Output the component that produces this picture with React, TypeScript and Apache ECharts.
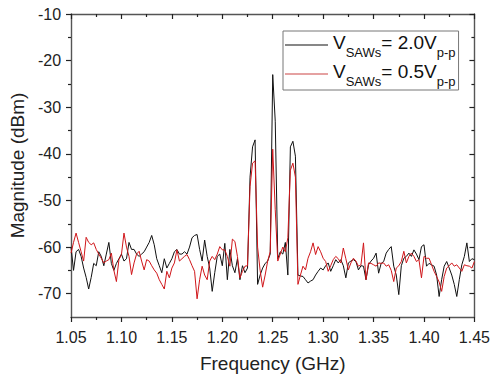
import React, { useEffect, useRef } from "react";
import * as echarts from "echarts";

// Sweep: 1.05 GHz to 1.45 GHz, 0.0025 GHz step (161 points)
const FREQ_START = 1.05;
const FREQ_STEP = 0.0025;

// V_SAWs = 2.0 Vp-p (black)
const mag20: number[] = [
  -60, -65, -61, -60.5, -62, -64.5, -66.5, -69, -66.5, -63.5,
  -64, -61, -62, -64, -61.5, -59, -63.5, -65, -63.5, -62.5,
  -61.5, -63, -62.5, -59, -60.5, -60.5, -61.5, -62, -61.5, -61,
  -60, -59, -57.5, -59.5, -62.5, -64, -65.5, -62.5, -64.5, -63.5,
  -62.5, -61, -60.5, -61.5, -61.5, -61, -61.5, -60, -58, -57.5,
  -57.3, -60.5, -63, -58.5, -62, -64.5, -69.5, -65.5, -62, -61.5,
  -64, -59.2, -67, -60.5, -64, -65.5, -62.5, -67, -64, -65.5,
  -64.5, -45, -38.5, -37, -68, -66, -64.5, -63.5, -63, -61.5,
  -23, -33, -62.5, -61, -61.5, -59, -66, -38.5, -37.3, -40.5,
  -66, -66.2, -66.3, -67, -67.7, -67.3, -67, -66, -65.2, -64.5,
  -64.9, -64, -63.4, -65.2, -64, -62.7, -63.4, -62.7, -64, -66.6,
  -63.4, -63, -62.7, -63.1, -64.9, -64, -64.1, -67, -63.8, -63,
  -62.4, -61.3, -65.6, -63.5, -63.1, -61.3, -60.5, -59.9, -64.1, -66,
  -70.2, -64, -62.4, -62, -61.3, -62, -60.6, -61.5, -62.7, -59.9,
  -59.5, -64.1, -63.5, -63.8, -64.1, -66, -70.6, -67, -64.1, -63.1,
  -64.5, -66, -68, -70.6, -67, -63.8, -62, -59.1, -63.1, -62.5,
  -62.7,
];

// V_SAWs = 0.5 Vp-p (red)
const mag05: number[] = [
  -61.3, -59, -57, -59, -61, -63, -57.9, -59, -59.5, -59.1,
  -60.5, -61.5, -62.4, -63.4, -63, -62.7, -61.3, -65, -67.4, -62.7,
  -61.6, -57, -60, -62, -65.9, -63.4, -61.5, -60.9, -63, -64.9,
  -62.7, -63, -64, -64.9, -65.6, -67, -68, -69, -65.2, -66.6,
  -64.5, -63.4, -60.6, -63, -62.5, -62, -61.6, -62.7, -64, -65.2,
  -71.1, -67, -64.1, -66, -67, -63, -62, -62.7, -61.5, -59.9,
  -60.6, -60.6, -62, -64.1, -58.3, -58.8, -62, -66.6, -65.2, -64.1,
  -64, -47, -42, -41.5, -60, -65, -68.6, -66, -63, -61,
  -39, -52, -63, -61.5, -60, -61, -58, -43.5, -42, -45,
  -68, -66, -64.1, -64.9, -62.4, -61, -59.1, -61.6, -59.9, -61,
  -62.4, -63.1, -65.2, -64, -62.7, -62, -62.5, -63.4, -60.2, -62.5,
  -64.9, -63.4, -62.4, -63, -64.1, -63.8, -59.1, -67, -63.4, -63.5,
  -63.8, -64.1, -63.4, -63.5, -63.4, -64.1, -63.8, -65, -67.4, -64.5,
  -64, -63.1, -60.9, -63.4, -62, -61.3, -62, -63.1, -62.7, -66.6,
  -62, -62.4, -62.4, -63.8, -65.2, -66.3, -67.5, -69.5, -66.3, -64.5,
  -64, -63.4, -64.1, -63.8, -64.5, -65.2, -63.8, -64, -64.1, -64.5,
  -63.1,
];

const seriesLabels = ["2.0", "0.5"];
const yMajorTicks = [-70, -60, -50, -40, -30, -20, -10];
const yMinorTicks = [-65, -55, -45, -35, -25, -15];

const FONT = "'Liberation Sans', Arial, sans-serif";
// thin horizontal line centred in a 43x26 box (tiny corner specks fix the box size)
const LINE_ICON =
  "path://M0,0L0.01,0L0,0.01Z M0,12.5H43V13.5H0Z M43,26L42.99,26L43,25.99Z";

export default function App() {
  const ref = useRef<HTMLDivElement>(null);

  useEffect(() => {
    const chart = echarts.init(ref.current!, null, { renderer: "svg" });
    const pairs = (arr: number[]) =>
      arr.map((v, i) => [+(FREQ_START + i * FREQ_STEP).toFixed(4), v]);

    const axisLine = { show: true, lineStyle: { color: "#555", width: 1.4 } };
    const tickStyle = { color: "#222", width: 1.2 };

    const yBase = (position: string, inside: boolean, ticks: number[], len: number, showLine: boolean, showLabel: boolean) => ({
      type: "value",
      position,
      min: -75,
      max: -10,
      interval: 5,
      axisLine: showLine ? axisLine : { show: false },
      axisTick: { show: true, inside, length: len, lineStyle: tickStyle, customValues: ticks },
      axisLabel: showLabel
        ? { show: true, customValues: ticks, margin: 10, fontSize: 16, fontFamily: FONT, color: "#222" }
        : { show: false },
      splitLine: { show: false },
    });

    chart.setOption({
      animation: false,
      backgroundColor: "#fff",
      grid: { left: 68, right: 16, top: 14, bottom: 64 },
      xAxis: [
        {
          type: "value",
          position: "bottom",
          min: 1.05,
          max: 1.45,
          interval: 0.05,
          name: "Frequency (GHz)",
          nameLocation: "middle",
          nameGap: 37,
          nameTextStyle: { fontSize: 19, fontFamily: FONT, color: "#222" },
          axisLine,
          axisTick: { show: true, inside: false, length: 5, lineStyle: tickStyle },
          minorTick: { show: true, splitNumber: 2, length: 3, lineStyle: tickStyle },
          axisLabel: {
            margin: 12,
            fontSize: 16,
            fontFamily: FONT,
            color: "#222",
            formatter: (v: number) => v.toFixed(2),
          },
          splitLine: { show: false },
        },
        {
          type: "value",
          position: "top",
          min: 1.05,
          max: 1.45,
          interval: 0.05,
          axisLine,
          axisTick: { show: true, inside: true, length: 5, lineStyle: tickStyle },
          minorTick: { show: true, splitNumber: 2, length: 3, lineStyle: tickStyle },
          axisLabel: { show: false },
          splitLine: { show: false },
        },
      ],
      yAxis: [
        {
          ...yBase("left", false, yMajorTicks, 5, true, true),
          name: "Magnitude (dBm)",
          nameLocation: "middle",
          nameGap: 41,
          nameTextStyle: { fontSize: 19, fontFamily: FONT, color: "#222" },
        },
        yBase("left", false, yMinorTicks, 3, false, false),
        yBase("right", true, yMajorTicks, 5, true, false),
        yBase("right", true, yMinorTicks, 3, false, false),
      ],
      legend: {
        orient: "vertical",
        left: 283,
        top: 31,
        padding: [1, 3, 2, 2],
        icon: LINE_ICON,
        itemWidth: 43,
        itemHeight: 26,
        itemGap: 2,
        borderColor: "#777",
        borderWidth: 1,
        borderRadius: 0,
        backgroundColor: "#fff",
        formatter: (name: string) => `{b|V}{s|SAWs}{b|= ${name}V}{s|p-p}`,
        textStyle: {
          rich: {
            b: { fontSize: 19, fontFamily: FONT, color: "#111", lineHeight: 24, verticalAlign: "top" },
            s: { fontSize: 13, fontFamily: FONT, color: "#111", lineHeight: 13, padding: [13, 0, 0, 0], verticalAlign: "top" },
          },
        },
      },
      series: [
        {
          name: seriesLabels[0],
          type: "line",
          xAxisIndex: 0,
          yAxisIndex: 0,
          data: pairs(mag20),
          symbol: "none",
          lineStyle: { color: "#111", width: 1 },
          itemStyle: { color: "#111" },
        },
        {
          name: seriesLabels[1],
          type: "line",
          xAxisIndex: 0,
          yAxisIndex: 0,
          data: pairs(mag05),
          symbol: "none",
          lineStyle: { color: "#d0161a", width: 1 },
          itemStyle: { color: "#c44" },
        },
      ],
    });

    return () => chart.dispose();
  }, []);

  return (
    <div
      ref={ref}
      style={{ position: "fixed", left: 0, top: 0, width: 493, height: 381, background: "#fff" }}
    />
  );
}
